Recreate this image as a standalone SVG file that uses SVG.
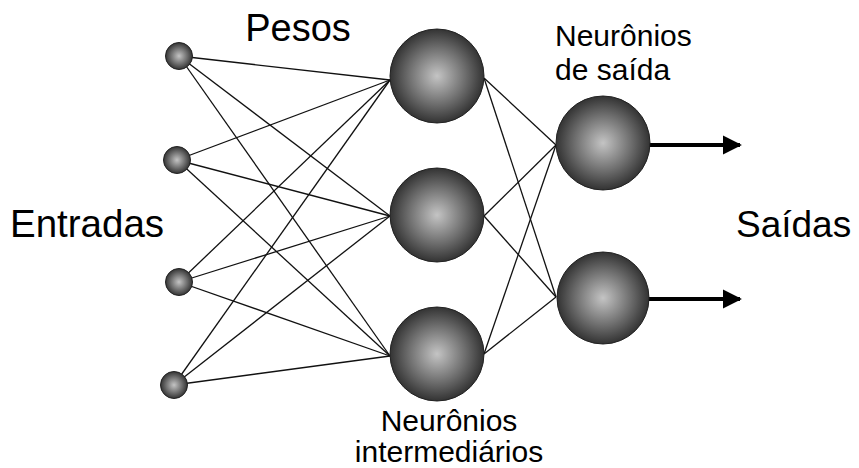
<svg xmlns="http://www.w3.org/2000/svg" width="859" height="468" viewBox="0 0 859 468">
<defs>
<radialGradient id="g" cx="50%" cy="50%" r="50%">
<stop offset="0" stop-color="#c4c4c4"/>
<stop offset="0.6" stop-color="#6e6e6e"/>
<stop offset="1" stop-color="#333"/>
</radialGradient>
<marker id="ah" viewBox="0 0 10 10" refX="9" refY="5" markerWidth="4.8" markerHeight="5.2" orient="auto" markerUnits="strokeWidth">
<path d="M0,0 L10,5 L0,10 z" fill="#000"/>
</marker>
<style>
.n{fill:url(#g);stroke:#222;stroke-width:1}
.c line{stroke:#111;stroke-width:1.3}
.c line.a{stroke:#000;stroke-width:4}
text{font-family:"Liberation Sans",Arial,sans-serif;fill:#000}
.big{font-size:37px}
.sm{font-size:30px}
</style>
</defs>
<rect width="859" height="468" fill="#fff"/>
<g class="c" id="connectors">
<line x1="179" y1="56" x2="390" y2="80"/>
<line x1="179" y1="56" x2="390" y2="216"/>
<line x1="179" y1="56" x2="390" y2="356"/>
<line x1="177" y1="160" x2="390" y2="80"/>
<line x1="177" y1="160" x2="390" y2="216"/>
<line x1="177" y1="160" x2="390" y2="356"/>
<line x1="179" y1="282" x2="390" y2="80"/>
<line x1="179" y1="282" x2="390" y2="216"/>
<line x1="179" y1="282" x2="390" y2="356"/>
<line x1="174" y1="385" x2="390" y2="80"/>
<line x1="174" y1="385" x2="390" y2="216"/>
<line x1="174" y1="385" x2="390" y2="356"/>
<line x1="484" y1="78" x2="556" y2="145"/>
<line x1="484" y1="78" x2="556" y2="297"/>
<line x1="484" y1="216" x2="556" y2="145"/>
<line x1="484" y1="216" x2="556" y2="297"/>
<line x1="484" y1="354" x2="556" y2="145"/>
<line x1="484" y1="354" x2="556" y2="297"/>
<line class="a" x1="648" y1="145" x2="740" y2="145" marker-end="url(#ah)"/>
<line class="a" x1="648" y1="299" x2="740" y2="299" marker-end="url(#ah)"/>
</g>
<g id="in1"><circle class="n" cx="179" cy="56" r="13.5"/></g>
<g id="in2"><circle class="n" cx="177" cy="160" r="13.5"/></g>
<g id="in3"><circle class="n" cx="179" cy="282" r="13.5"/></g>
<g id="in4"><circle class="n" cx="174" cy="385" r="13.5"/></g>
<g id="h1"><circle class="n" cx="437" cy="76" r="47"/></g>
<g id="h2"><circle class="n" cx="437" cy="215" r="47"/></g>
<g id="h3"><circle class="n" cx="437" cy="354" r="47"/></g>
<g id="o1"><circle class="n" cx="603" cy="143" r="47"/></g>
<g id="o2"><circle class="n" cx="603" cy="298" r="46"/></g>
<g id="labels">
<text class="big" x="298" y="41" text-anchor="middle" style="font-size:38px">Pesos</text>
<text class="big" x="10" y="237" style="font-size:38.5px">Entradas</text>
<text class="big" x="736" y="237">Saídas</text>
<text class="sm" x="555" y="46">Neurônios</text>
<text class="sm" x="555" y="80">de saída</text>
<text class="sm" x="449" y="431" text-anchor="middle">Neurônios</text>
<text class="sm" x="449" y="462" text-anchor="middle">intermediários</text>
</g>
</svg>
